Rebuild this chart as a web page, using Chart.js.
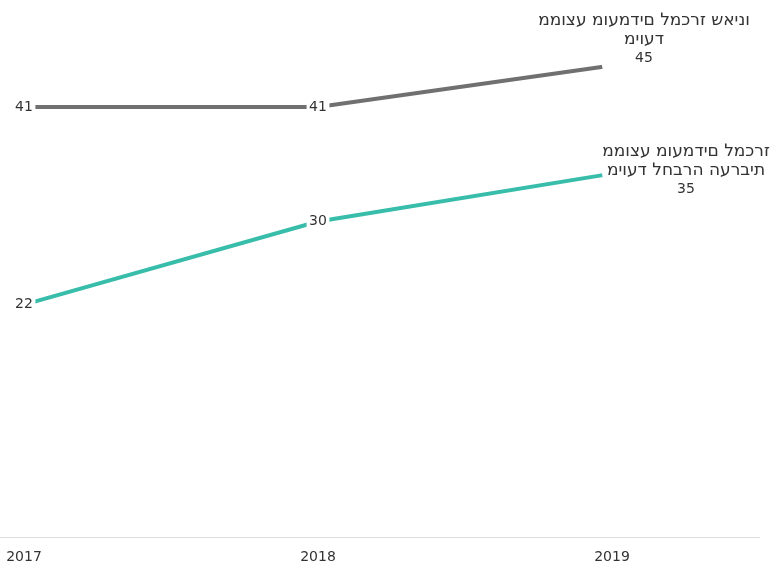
<!DOCTYPE html>
<html>
<head>
<meta charset="utf-8">
<script src="https://cdn.jsdelivr.net/npm/chart.js@4"></script>
<style>
  html, body { margin: 0; padding: 0; background: #fff; }
</style>
</head>
<body>
<canvas id="chart" width="772" height="569"></canvas>
<script>
// Data
const years = ["2017", "2018", "2019"];
const generalValues = [41, 41, 45];
const arabValues = [22, 30, 34.6];
const generalName = ["ממוצע מועמדים למכרז שאינו", "מיועד"];
const arabName = ["ממוצע מועמדים למכרז", "מיועד לחברה הערבית"];

const FONT = "'DejaVu Sans', Verdana, sans-serif";

function toPoints(values) {
  return values.map((v, i) => ({ x: i, y: v }));
}

// the reference shows the Hebrew glyphs laid out left to right
function ltr(s) {
  return "\u202D" + s + "\u202C";
}

// value labels on the points, series name at the last point
const labelPlugin = {
  id: "pointLabels",
  afterDatasetsDraw(chart) {
    const ctx = chart.ctx;
    ctx.save();
    ctx.textAlign = "center";
    ctx.textBaseline = "middle";
    ctx.fillStyle = "#333";
    chart.data.datasets.forEach((ds, di) => {
      const meta = chart.getDatasetMeta(di);
      meta.data.forEach((pt, j) => {
        const txt = String(Math.round(ds.data[j].y));
        ctx.font = "14px " + FONT;
        if (j < meta.data.length - 1) {
          const w = ctx.measureText(txt).width + 5;
          ctx.fillStyle = "#fff";
          ctx.fillRect(pt.x - w / 2, pt.y - 9, w, 18);
          ctx.fillStyle = "#333";
          ctx.fillText(txt, pt.x, pt.y);
        } else {
          const x = pt.x + ds.labelDx;
          const y = pt.y + ds.labelDy;
          ctx.font = "17px " + FONT;
          ds.nameLines.forEach((l, k) => ctx.fillText(ltr(l), x, y + k * 19));
          ctx.font = "14px " + FONT;
          ctx.fillText(txt, x, y + ds.nameLines.length * 19);
        }
      });
    });
    ctx.restore();
  }
};

new Chart(document.getElementById("chart").getContext("2d"), {
  type: "line",
  data: {
    datasets: [
      {
        data: toPoints(generalValues),
        nameLines: generalName,
        labelDx: 32,
        labelDy: -45,
        borderColor: "#707070",
        borderWidth: 4,
        pointRadius: [0, 0, 10],
        pointBackgroundColor: "#fff",
        pointBorderWidth: 0,
        tension: 0
      },
      {
        data: toPoints(arabValues),
        nameLines: arabName,
        labelDx: 74,
        labelDy: -22,
        borderColor: "#38bdaa",
        borderWidth: 4,
        pointRadius: [0, 0, 10],
        pointBackgroundColor: "#fff",
        pointBorderWidth: 0,
        tension: 0
      }
    ]
  },
  options: {
    responsive: false,
    animation: false,
    devicePixelRatio: 1,
    layout: { autoPadding: false, padding: { left: 0, right: 13, top: 0, bottom: 0 } },
    plugins: { legend: { display: false }, tooltip: { enabled: false } },
    scales: {
      x: {
        type: "linear",
        min: -0.0816,
        max: 2.5,
        afterBuildTicks: (scale) => { scale.ticks = years.map((y, i) => ({ value: i })); },
        afterFit: (scale) => {
          scale.height = 32;
          scale.paddingLeft = 0;
          scale.paddingRight = 0;
        },
        grid: { display: false, drawTicks: false },
        border: { color: "#dcdcdc", width: 1 },
        ticks: {
          callback: (v) => years[v],
          color: "#333",
          font: { family: FONT, size: 14 },
          padding: 12,
          maxRotation: 0,
          autoSkip: false
        }
      },
      y: {
        display: false,
        min: -0.35,
        max: 51.3
      }
    }
  },
  plugins: [labelPlugin]
});
</script>
</body>
</html>
